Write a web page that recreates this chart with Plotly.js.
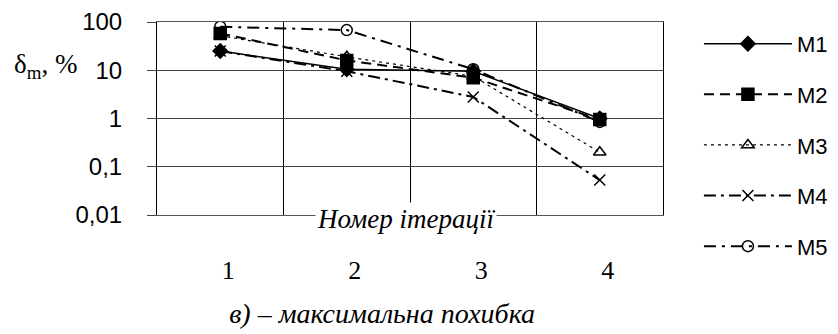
<!DOCTYPE html>
<html><head><meta charset="utf-8">
<script src="https://cdn.plot.ly/plotly-3.0.1.min.js"></script>
<style>body{margin:0;background:#fff}#c{width:838px;height:334px}</style>
</head><body><div id="c"></div>
<script>
const categories = ['1', '2', '3', '4'];
const seriesNames = ['M1', 'M2', 'M3', 'M4', 'M5'];
const m1 = [25, 10.5, 9.5, 1.0];
const m2 = [58, 16, 7, 0.95];
const m3 = [52, 19, 7.5, 0.2];
const m4 = [25, 9.5, 2.8, 0.053];
const m5 = [80, 68, 10.5, 0.85];
const yTickVals = [0.01, 0.1, 1, 10, 100];
const yTickText = ['0,01', '0,1', '1', '10', '100'];
const xAxisLabel = 'Номер ітерації';
const yAxisLabel = 'δ<sub>m</sub>, %';
const chartTitle = 'в) – максимальна похибка';

const values = [m1, m2, m3, m4, m5];
const styles = [
  {dash: 'solid', width: 1.5, symbol: 'diamond', size: 11},
  {dash: '10px,6px', width: 2, symbol: 'square', size: 12},
  {dash: '3px,4px', width: 1.2, symbol: 'triangle-up-open', size: 11},
  {dash: '12px,5px,3px,5px', width: 2, symbol: 'x-thin-open', size: 11},
  {dash: '12px,6px,3px,6px', width: 2, symbol: 'circle-open', size: 11}
];
const traces = seriesNames.map((n, i) => ({
  type: 'scatter', mode: 'lines+markers', name: n, x: categories, y: values[i],
  legendgroup: n,
  line: {color: '#000', dash: styles[i].dash, width: styles[i].width},
  marker: {color: '#000', symbol: styles[i].symbol, size: styles[i].size, line: {color: '#000', width: 1.5}}
}));

const layout = {
  width: 838, height: 334,
  margin: {l: 157, r: 175, t: 22, b: 119, autoexpand: false},
  paper_bgcolor: '#fff', plot_bgcolor: '#fff',
  showlegend: true,
  legend: {x: 1.071, xanchor: 'left', y: 0.995, yanchor: 'top', tracegroupgap: 19,
    maxheight: 330, itemwidth: 88,
    font: {family: 'Liberation Sans, Arial', size: 22, color: '#000'}},
  title: {text: '<i>' + chartTitle + '</i>', font: {family: 'Liberation Serif, Times New Roman', size: 28, color: '#000'},
    xref: 'paper', x: 0.445, xanchor: 'center', yref: 'container', y: 0.063, yanchor: 'middle'},
  xaxis: {type: 'category', range: [-0.5, 3.5], tickson: 'boundaries', showgrid: true, gridcolor: '#000', gridwidth: 1,
    ticks: '', ticklabelstandoff: 32, ticklabelshift: 8,
    tickfont: {family: 'Liberation Serif, Times New Roman', size: 26, color: '#000'},
    showline: true, linecolor: '#555', mirror: true, zeroline: false},
  yaxis: {type: 'log', range: [-2, 2], tickvals: yTickVals, ticktext: yTickText,
    showgrid: true, gridcolor: '#444', gridwidth: 1, ticks: 'outside', ticklen: 9, tickcolor: '#444',
    ticklabelstandoff: 20,
    tickfont: {family: 'Liberation Sans, Arial', size: 24, color: '#000'},
    showline: true, linecolor: '#000', mirror: true, zeroline: false},
  annotations: [
    {text: '<i>' + xAxisLabel + '</i>', xref: 'paper', yref: 'paper', x: 0.492, y: -0.02, xanchor: 'center', yanchor: 'middle',
     showarrow: false, bgcolor: '#fff', font: {family: 'Liberation Serif, Times New Roman', size: 27, color: '#000'}},
    {text: yAxisLabel, xref: 'paper', yref: 'paper', x: -0.22, y: 0.77, xanchor: 'center', yanchor: 'middle',
     showarrow: false, font: {family: 'Liberation Serif, Times New Roman', size: 27, color: '#000'}}
  ]
};
Plotly.newPlot('c', traces, layout, {displayModeBar: false, staticPlot: true});
</script></body></html>
